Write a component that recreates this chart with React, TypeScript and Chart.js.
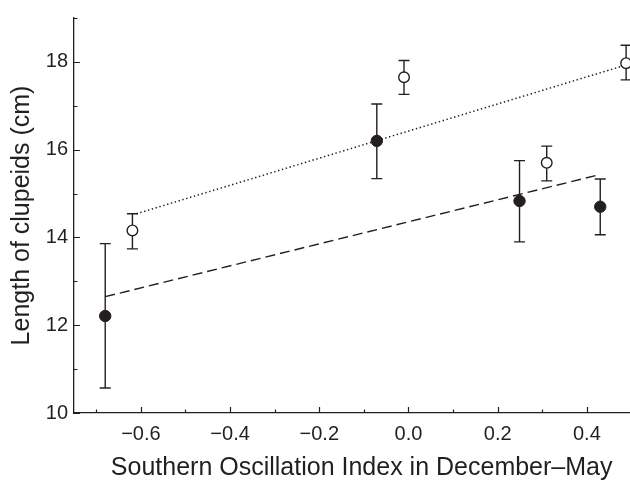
import React, { useEffect, useRef } from "react";
import { Chart, registerables } from "chart.js";

Chart.register(...registerables);

// Filled circles
const filledX = [-0.68, -0.071, 0.249, 0.43];
const filledY = [12.21, 16.2, 14.83, 14.7];
const filledHigh = [13.86, 17.04, 15.75, 15.33];
const filledLow = [10.57, 15.34, 13.9, 14.06];

// Open circles
const openX = [-0.619, -0.01, 0.31, 0.488];
const openY = [14.16, 17.65, 15.7, 17.97];
const openHigh = [14.54, 18.03, 16.08, 18.38];
const openLow = [13.74, 17.26, 15.29, 17.59];

// Regression lines (end points)
const dottedFitX = [-0.61, 0.478];
const dottedFitY = [14.54, 17.9];
const dashedFitX = [-0.68, 0.428];
const dashedFitY = [12.65, 15.43];

// Axis ticks
const xMajorTicks = [-0.6, -0.4, -0.2, 0.0, 0.2, 0.4];
const xMinorTicks = [-0.7, -0.5, -0.3, -0.1, 0.1, 0.3, 0.5];
const yMajorTicks = [10, 12, 14, 16, 18];
const yMinorTicks = [11, 13, 15, 17, 19];

const xTitle = "Southern Oscillation Index in December–May";
const yTitle = "Length of clupeids (cm)";

const INK = "#231f20";
const FONT = '"Liberation Sans", Arial, Helvetica, sans-serif';

const toPts = (xs: number[], ys: number[]) => xs.map((v, i) => ({ x: v, y: ys[i] }));

export default function App() {
  const ref = useRef<HTMLCanvasElement>(null);

  useEffect(() => {
    if (!ref.current) return;

    const errorBars = {
      id: "errorBars",
      beforeDatasetsDraw(chart: any) {
        const { ctx, scales } = chart;
        const x = scales.x;
        const y = scales.y;
        ctx.save();
        ctx.strokeStyle = INK;
        ctx.lineWidth = 1.4;
        const draw = (xs: number[], lo: number[], hi: number[]) => {
          xs.forEach((v, i) => {
            const px = x.getPixelForValue(v);
            const pl = y.getPixelForValue(lo[i]);
            const ph = y.getPixelForValue(hi[i]);
            ctx.beginPath();
            ctx.moveTo(px, pl);
            ctx.lineTo(px, ph);
            ctx.moveTo(px - 5.5, pl);
            ctx.lineTo(px + 5.5, pl);
            ctx.moveTo(px - 5.5, ph);
            ctx.lineTo(px + 5.5, ph);
            ctx.stroke();
          });
        };
        draw(filledX, filledLow, filledHigh);
        draw(openX, openLow, openHigh);
        ctx.restore();
      },
    };

    const innerTicks = {
      id: "innerTicks",
      afterDraw(chart: any) {
        const { ctx, scales } = chart;
        const x = scales.x;
        const y = scales.y;
        ctx.save();
        ctx.strokeStyle = INK;
        ctx.lineWidth = 1.2;
        ctx.beginPath();
        const xb = x.top;
        const yl = y.right;
        xMajorTicks.forEach((v) => {
          const p = Math.round(x.getPixelForValue(v)) + 0.5;
          ctx.moveTo(p, xb);
          ctx.lineTo(p, xb - 6);
        });
        xMinorTicks.forEach((v) => {
          const p = Math.round(x.getPixelForValue(v)) + 0.5;
          ctx.moveTo(p, xb);
          ctx.lineTo(p, xb - 3.5);
        });
        yMajorTicks.forEach((v) => {
          const p = Math.round(y.getPixelForValue(v)) + 0.5;
          ctx.moveTo(yl, p);
          ctx.lineTo(yl + 6, p);
        });
        yMinorTicks.forEach((v) => {
          const p = Math.round(y.getPixelForValue(v)) + 0.5;
          ctx.moveTo(yl, p);
          ctx.lineTo(yl + 3.5, p);
        });
        ctx.stroke();
        ctx.restore();
      },
    };

    const chart = new Chart(ref.current, {
      type: "scatter",
      data: {
        datasets: [
          {
            label: "filled",
            data: toPts(filledX, filledY),
            backgroundColor: INK,
            borderColor: INK,
            pointRadius: 5.7,
            pointBorderWidth: 1,
            showLine: false,
            order: 1,
          },
          {
            label: "open",
            data: toPts(openX, openY),
            backgroundColor: "#ffffff",
            borderColor: INK,
            pointRadius: 5.3,
            pointBorderWidth: 1.4,
            showLine: false,
            order: 1,
          },
          {
            label: "dotted fit",
            data: toPts(dottedFitX, dottedFitY),
            showLine: true,
            borderColor: INK,
            borderWidth: 1.5,
            borderDash: [1.4, 2.6],
            pointRadius: 0,
            fill: false,
            order: 2,
          },
          {
            label: "dashed fit",
            data: toPts(dashedFitX, dashedFitY),
            showLine: true,
            borderColor: INK,
            borderWidth: 1.4,
            borderDash: [10, 5],
            pointRadius: 0,
            fill: false,
            order: 2,
          },
        ],
      },
      options: {
        animation: false,
        responsive: false,
        maintainAspectRatio: false,
        layout: { padding: { top: 12, left: 0, right: 0, bottom: 0 } },
        plugins: {
          legend: { display: false },
          tooltip: { enabled: false },
        },
        scales: {
          x: {
            type: "linear",
            min: -0.75,
            max: 0.54,
            grid: { display: false, drawTicks: false },
            border: { display: true, color: INK, width: 1.3 },
            afterBuildTicks: (scale: any) => {
              scale.ticks = xMajorTicks.map((v) => ({ value: v }));
            },
            afterFit: (scale: any) => {
              scale.height = 70;
            },
            ticks: {
              padding: 9,
              color: INK,
              font: { family: FONT, size: 20 },
              callback: (v: any) => {
                const n = Number(v);
                const s = Math.abs(n).toFixed(1);
                return n < -1e-9 ? "\u2212" + s : s;
              },
            },
            title: {
              display: true,
              text: xTitle,
              color: INK,
              font: { family: FONT, size: 25 },
              padding: { top: 0, bottom: 0 },
            },
          },
          y: {
            type: "linear",
            min: 10,
            max: 19,
            grid: { display: false, drawTicks: false },
            border: { display: true, color: INK, width: 1.3 },
            afterBuildTicks: (scale: any) => {
              scale.ticks = yMajorTicks.map((v) => ({ value: v }));
            },
            afterFit: (scale: any) => {
              scale.width = 74;
            },
            ticks: {
              padding: 6,
              color: INK,
              font: { family: FONT, size: 20 },
              callback: (v: any) => String(v),
            },
            title: {
              display: true,
              text: yTitle,
              color: INK,
              font: { family: FONT, size: 25 },
              padding: { top: 7, bottom: 0 },
            },
          },
        },
      },
      plugins: [errorBars, innerTicks],
    });

    return () => chart.destroy();
  }, []);

  return (
    <div style={{ position: "fixed", left: 0, top: 0, width: 656, height: 483, background: "#ffffff" }}>
      <canvas ref={ref} width={656} height={483} style={{ display: "block" }} />
    </div>
  );
}
